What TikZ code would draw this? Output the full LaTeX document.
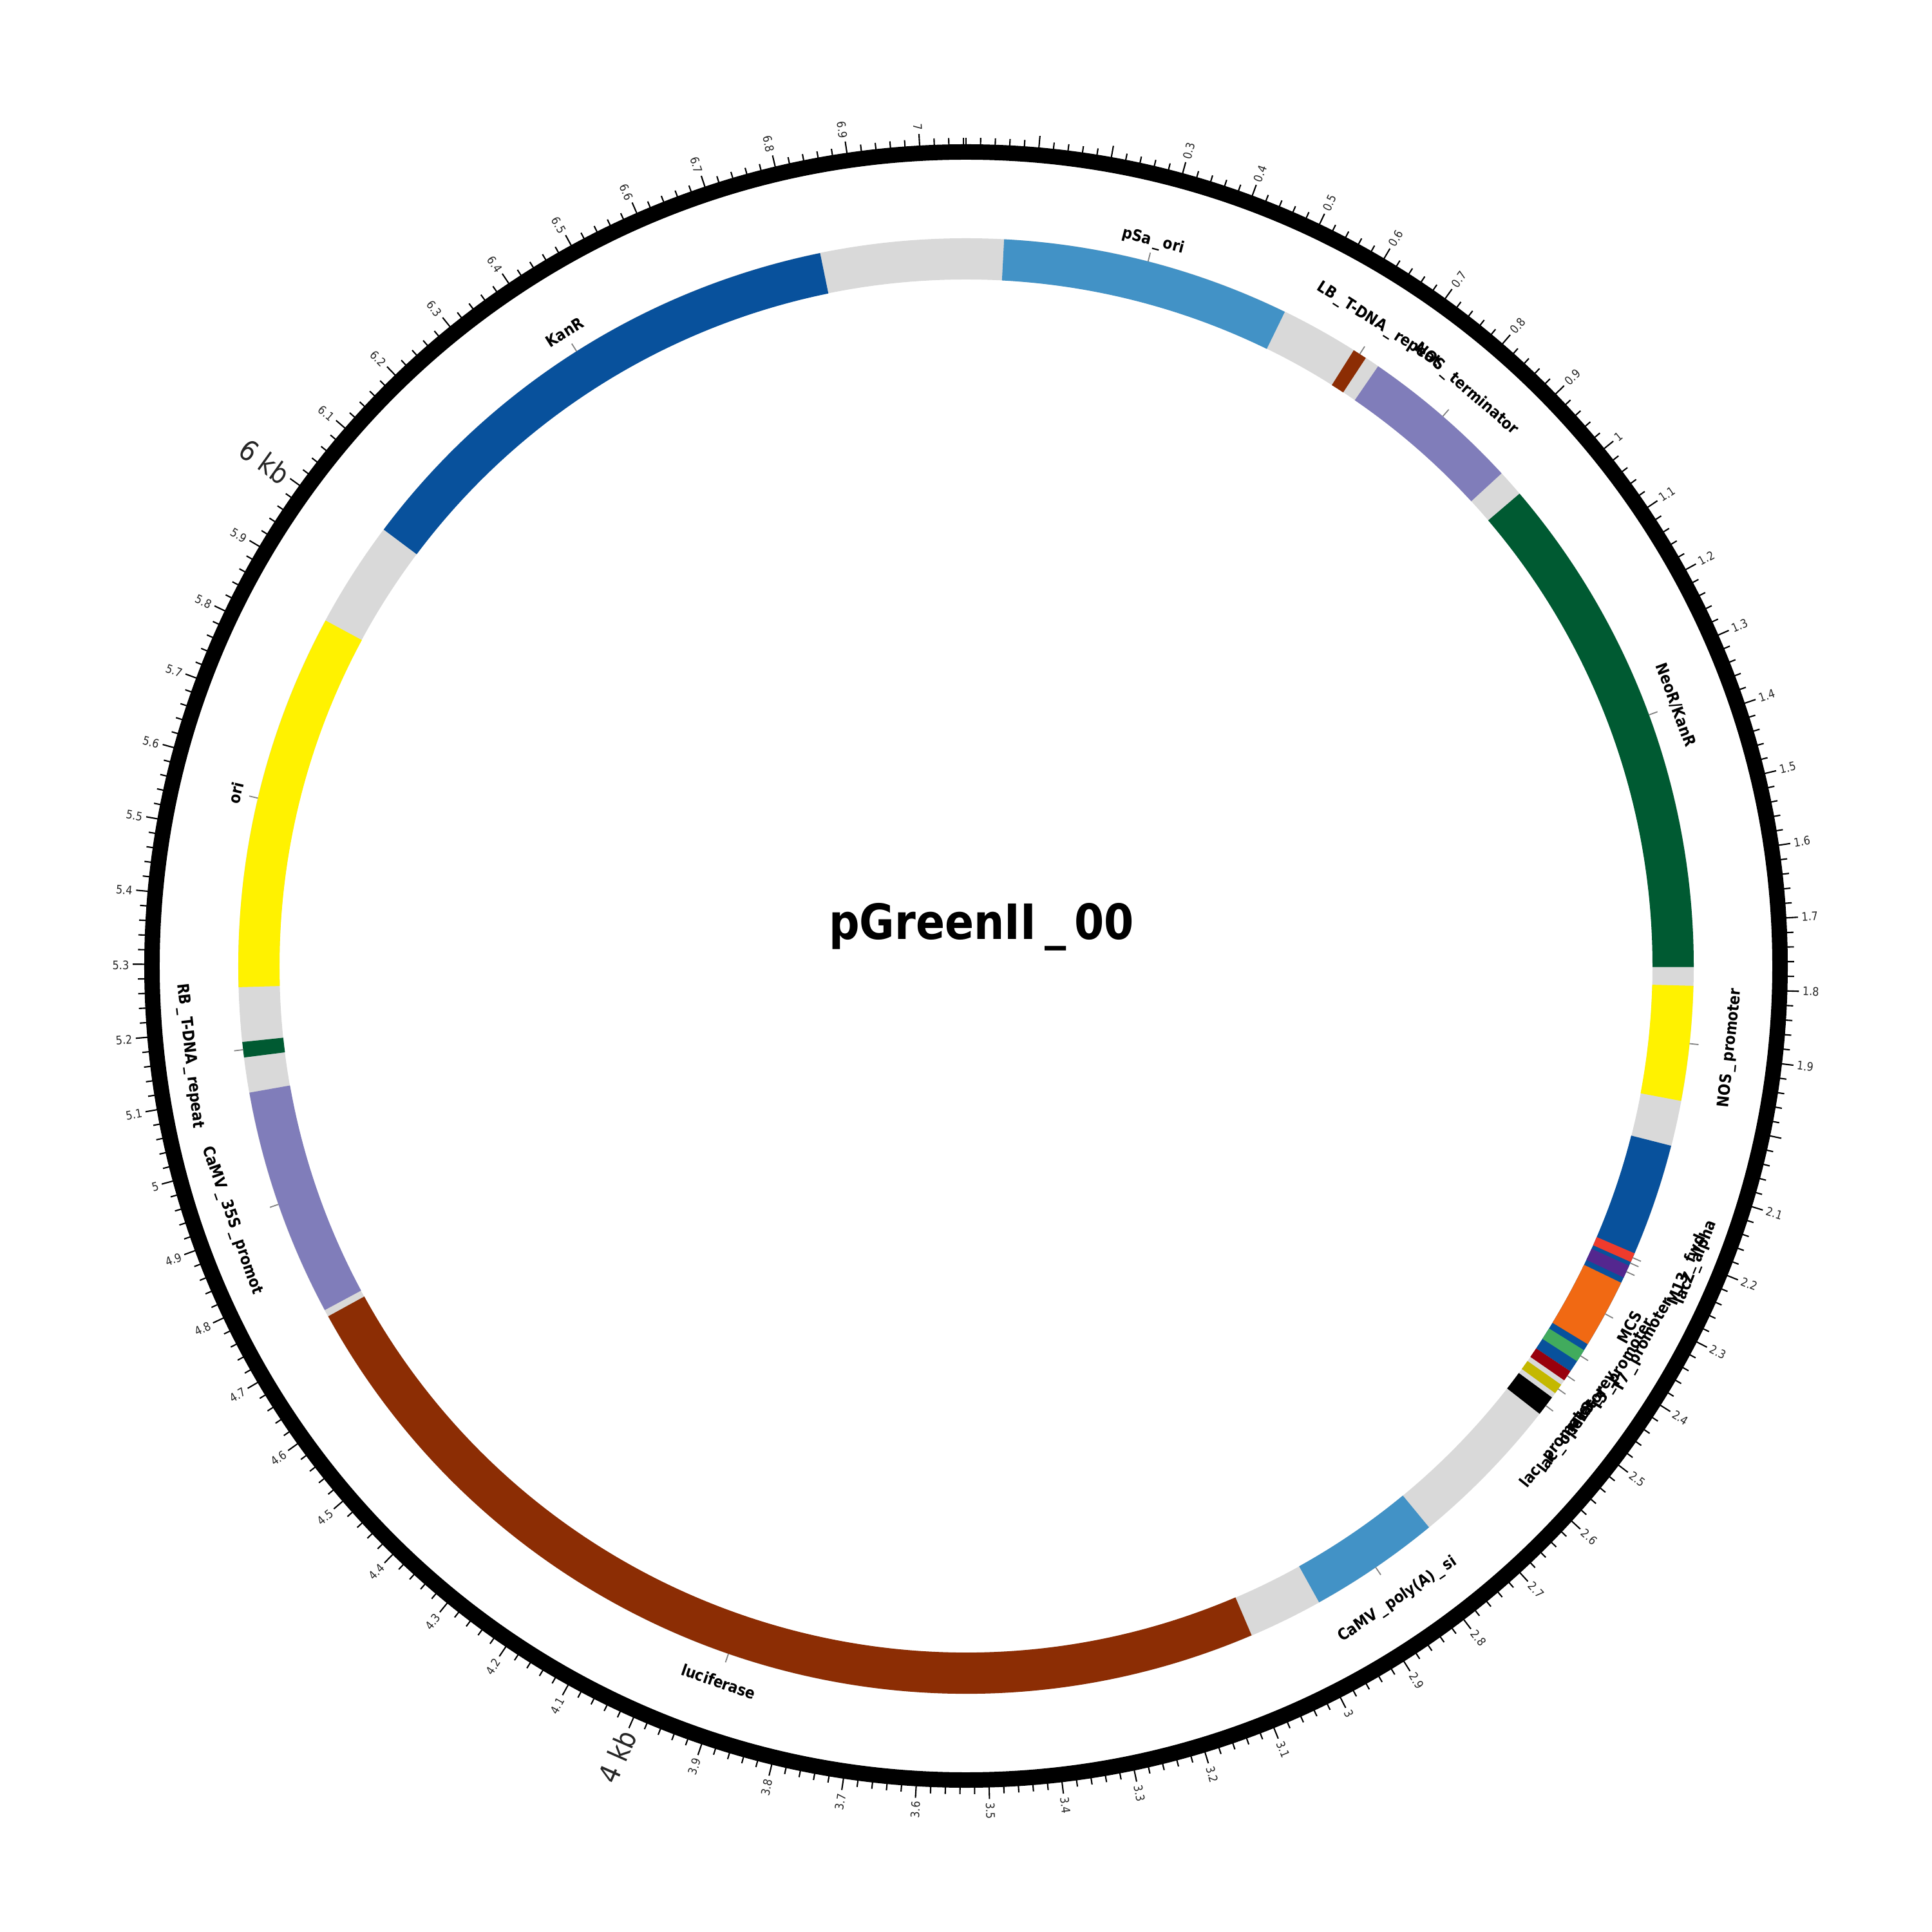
\documentclass[tikz,border=0pt]{standalone}
\usepackage{fontspec}
\newfontfamily\dv[FakeStretch=0.88]{DejaVu Sans}
\newcommand{\us}{\kern0.17em\_\kern0.17em}
\definecolor{cgray}{HTML}{D9D9D9}
\definecolor{cnavy}{HTML}{08519C}
\definecolor{csky}{HTML}{4292C6}
\definecolor{cbrown}{HTML}{8C2D04}
\definecolor{clav}{HTML}{807DBA}
\definecolor{cgreen}{HTML}{005A32}
\definecolor{cyellow}{HTML}{FFF200}
\definecolor{cred}{HTML}{EF3B2C}
\definecolor{cpurple}{HTML}{54278F}
\definecolor{corange}{HTML}{F16913}
\definecolor{cmint}{HTML}{41AB5D}
\definecolor{cdred}{HTML}{99000D}
\definecolor{colive}{HTML}{C4B800}
\def\plen{7.065}
\def\Ro{11.30}
\def\Ri{10.66}
\newcommand{\feat}[3]{%
  \pgfmathsetmacro\fA{90-#1/\plen*360}%
  \pgfmathsetmacro\fB{90-#2/\plen*360}%
  \fill[#3] (\fA:\Ro) arc[start angle=\fA, end angle=\fB, radius=\Ro] -- (\fB:\Ri) arc[start angle=\fB, end angle=\fA, radius=\Ri] -- cycle;}
% upper-half label: name, kb, baseline radius, text
\newcommand{\flabU}[4]{%
  \pgfmathsetmacro\fang{90-#2/\plen*360}%
  \draw[leader] (\fang:\Ro) -- (\fang:11.44);
  \node[flab, anchor=base, rotate=\fang-90] (#1) at (\fang:#3) {#4};}
% lower-half label: name, kb of feature, kb of text, baseline radius, text
\newcommand{\flabL}[5]{%
  \pgfmathsetmacro\fang{90-#2/\plen*360}%
  \pgfmathsetmacro\tang{90-#3/\plen*360}%
  \draw[leader] (\fang:\Ro) -- (\fang:11.44);
  \node[flab, anchor=base, rotate=\tang+90] (#1) at (\tang:#4) {#5};}
\begin{document}
\begin{tikzpicture}[
  tick/.style={line width=0.6pt},
  leader/.style={draw=gray, line width=0.5pt},
  ticklab/.style={font=\dv\fontsize{5.2}{6}\selectfont, inner sep=0pt, text=black!85},
  biglab/.style={font=\dv\fontsize{12.5}{14}\selectfont, inner sep=0pt, text=black!85},
  flab/.style={font=\dv\bfseries\fontsize{7}{8}\selectfont, inner sep=0pt},
  titlelab/.style={font=\dv\bfseries\fontsize{21.5}{26}\selectfont, inner sep=0pt}]
\useasboundingbox (-15,-15) rectangle (15,15);
% ticks
\foreach \i in {0,...,353}{
  \pgfmathsetmacro\ta{90-\i*0.02/\plen*360}
  \pgfmathtruncatemacro\ism{mod(\i,5)}
  \ifnum\i=0 \def\ism{1}\fi
  \ifnum\ism=0
    \draw[tick] (\ta:12.70) -- (\ta:12.94);
  \else
    \draw[tick] (\ta:12.70) -- (\ta:12.86);
  \fi
}
% ring
\draw[line width=0.24cm] (0,0) circle[radius=12.64];
% tick labels
\foreach \t in {3,...,70}{
  \pgfmathsetmacro\ang{90-\t/10/\plen*360}
  \pgfmathtruncatemacro\ip{\t/10}
  \pgfmathtruncatemacro\fp{mod(\t,10)}
  \ifnum\fp=0 \edef\txt{\ip}\else \edef\txt{\ip.\fp}\fi
  \ifnum\t=20 \else\ifnum\t=40 \else\ifnum\t=60 \else
    \ifnum\t<36
      \node[ticklab, anchor=west, rotate=\ang] (tl\t) at (\ang:12.99) {\txt};
    \else
      \pgfmathsetmacro\rot{\ang+180}
      \node[ticklab, anchor=east, rotate=\rot] (tl\t) at (\ang:12.99) {\txt};
    \fi
  \fi\fi\fi
}
\pgfmathsetmacro\angF{90-4/\plen*360}
\pgfmathsetmacro\angS{90-6/\plen*360}
\node[biglab, anchor=east, rotate=\angF+180] (kb4) at (\angF:12.99) {4 kb};
\node[biglab, anchor=east, rotate=\angS+180] (kb6) at (\angS:12.99) {6 kb};
% feature ring
\fill[cgray, even odd rule] (0,0) circle[radius=\Ro] circle[radius=\Ri];
\feat{6.022}{6.838}{cnavy}
\feat{0.059}{0.510}{csky}
\feat{0.632}{0.654}{cbrown}
\feat{0.677}{0.930}{clav}
\feat{0.972}{1.768}{cgreen}
\feat{1.797}{1.976}{cyellow}
\feat{2.047}{2.4306}{cnavy}
\feat{2.2227}{2.2373}{cred}
\feat{2.2437}{2.2637}{cpurple}
\feat{2.2727}{2.3807}{corange}
\feat{2.3917}{2.4118}{cmint}
\feat{2.4306}{2.4473}{cdred}
\feat{2.4557}{2.4716}{colive}
\feat{2.480}{2.5116}{black}
\feat{2.757}{2.963}{csky}
\feat{3.079}{4.734}{cbrown}
\feat{4.745}{5.102}{clav}
\feat{5.157}{5.181}{cgreen}
\feat{5.266}{5.855}{cyellow}
% labels
\flabU{lpsa}{0.2845}{11.56}{pSa\us ori}
\flabU{llb}{0.643}{11.78}{LB\us T-DNA\us repeat}
\flabU{lnost}{0.8035}{11.79}{NOS\us terminator}
\flabU{lneo}{1.370}{11.66}{NeoR/KanR}
\flabL{lnosp}{1.8865}{1.8865}{12.00}{NOS\us promoter}
\flabL{llacz}{2.239}{2.20}{12.30}{lacZ\us alpha}
\flabL{lm13f}{2.230}{2.215}{12.22}{M13\us fwd}
\flabL{lt7}{2.2537}{2.34}{12.12}{T7\us promoter}
\flabL{lmcs}{2.3267}{2.3267}{11.82}{MCS}
\flabL{lt3}{2.4018}{2.38}{12.00}{T3\us promoter}
\flabL{lm13r}{2.439}{2.45}{11.93}{M13\us rev}
\flabL{llacop}{2.4636}{2.50}{11.93}{lac\us operator}
\flabL{llacp}{2.4958}{2.53}{11.88}{lac\us promoter}
\flabL{lpolya}{2.86}{2.86}{11.97}{CaMV\us poly(A)\us si}
\flabL{lluc}{3.9065}{3.9065}{11.85}{luciferase}
\flabL{l35s}{4.9235}{4.9235}{12.13}{CaMV\us 35S\us promot}
\flabL{lrb}{5.169}{5.169}{12.20}{RB\us T-DNA\us repeat}
\flabU{lori}{5.5605}{11.56}{ori}
\flabU{lkan}{6.43}{11.56}{KanR}
% title
\node[titlelab, anchor=base] (title) at (0.24,0.41) {pGreenII\us 00};
\end{tikzpicture}
\end{document}
